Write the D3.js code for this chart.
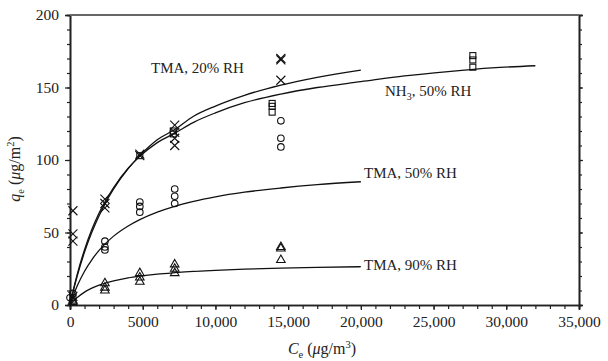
<!DOCTYPE html>
<html lang="en">
<head>
    <meta charset="UTF-8">
    <title>Adsorption isotherms</title>
    <script type="text/javascript" src="https://d3js.org/d3.v7.min.js"></script>
    <style>
        body { margin: 0; background: #fff; }
        text { font-family: "Liberation Serif", "Times New Roman", serif; fill: #222; }
    </style>
</head>
<body>
<svg height="361" width="608"></svg>

<script>

    // tick values
    var xTicks = [0, 5000, 10000, 15000, 20000, 25000, 30000, 35000];
    var yTicks = [0, 50, 100, 150, 200];

    // measured points [Ce, qe]
    var tma20Pts = [[200, 6], [200, 44], [200, 49], [200, 65], [2400, 67], [2400, 70], [2400, 73],
        [4800, 103], [4800, 104], [7200, 110], [7200, 115], [7200, 119], [7200, 124],
        [14500, 155], [14500, 169], [14500, 170]];
    var nh3Pts = [[200, 5], [4800, 103], [7100, 118], [7100, 120],
        [13900, 133], [13900, 137], [13900, 139], [27700, 164], [27700, 169], [27700, 172]];
    var tma50Pts = [[0, 5], [200, 8], [2400, 38], [2400, 40], [2400, 44], [4800, 64], [4800, 68], [4800, 71],
        [7200, 70], [7200, 75], [7200, 80], [14500, 109], [14500, 115], [14500, 127]];
    var tma90Pts = [[200, 2], [200, 3], [2400, 10], [2400, 12], [2400, 15], [4800, 16], [4800, 19], [4800, 22],
        [7200, 22], [7200, 25], [7200, 28], [14500, 31], [14500, 39], [14500, 40]];

    // fitted curves
    var fitC = [0, 250, 500, 1000, 1500, 2000, 2400, 3000, 4000, 4800, 6000, 7200, 8500, 10000, 12000, 14500, 17000, 20000];
    var nh3C = fitC.concat([23000, 26000, 29000, 32000]);
    var tma20Fit = [0, 10.6, 20.1, 36.5, 50.1, 61.6, 69.6, 80, 94, 103, 113.9, 121, 130.2, 137.2, 144.6, 151.6, 157, 162];
    var nh3Fit = [0, 11.3, 21.3, 38.2, 52, 63.4, 71, 81, 94.3, 102.5, 112, 118.5, 126, 132.5, 139.5, 145.5, 150, 154, 158, 161, 163.5, 165];
    var tma50Fit = [0, 7.1, 13.2, 23.3, 31.2, 37.7, 42, 47.5, 54.5, 58.9, 64.1, 68.1, 71.5, 74.6, 77.8, 80.7, 83, 85];
    var tma90Fit = [0, 3.1, 5.2, 8.9, 11.6, 13.7, 15, 16.6, 18.7, 19.9, 21.3, 22.3, 23.2, 23.9, 24.7, 25.4, 25.9, 26.4];

    var marge = {top: 15, right: 29, bottom: 56, left: 70},
        svg = d3.select('svg'),
        width = svg.attr('width') - marge.left - marge.right,
        height = svg.attr('height') - marge.top - marge.bottom;

    var g = svg.append('g')
        .attr('transform', 'translate(' + marge.left + ',' + marge.top + ')');

    var x = d3.scaleLinear().domain([0, 35000]).range([0, width]);
    var y = d3.scaleLinear().domain([0, 200]).range([height, 0]);

    var fmtX = function (d) { return d >= 10000 ? d3.format(',')(d) : d; };

    // minor ticks
    g.append('g')
        .attr('transform', 'translate(0,' + height + ')')
        .call(d3.axisBottom(x).tickValues(d3.range(0, 35001, 1000)).tickSize(4).tickFormat(''));
    g.append('g')
        .call(d3.axisLeft(y).tickValues(d3.range(0, 201, 10)).tickSize(3).tickFormat(''));
    g.append('g')
        .attr('transform', 'translate(' + width + ',0)')
        .call(d3.axisRight(y).tickValues(d3.range(0, 201, 10)).tickSize(3).tickFormat(''));

    // major ticks + labels
    g.append('g')
        .attr('transform', 'translate(0,' + height + ')')
        .call(d3.axisBottom(x).tickValues(xTicks).tickSize(5).tickPadding(6).tickFormat(fmtX));
    g.append('g')
        .call(d3.axisLeft(y).tickValues(yTicks).tickSize(5).tickPadding(6));
    g.append('g')
        .attr('transform', 'translate(' + width + ',0)')
        .call(d3.axisRight(y).tickValues(yTicks).tickSize(4).tickFormat(''));

    g.selectAll('.domain').attr('stroke', '#222').attr('stroke-width', 1.6);
    g.selectAll('.tick line').attr('stroke', '#222').attr('stroke-width', 1.2);
    g.selectAll('.tick text').attr('font-size', 15.5)
        .attr('font-family', '"Liberation Serif", "Times New Roman", serif').attr('fill', '#222');

    // top border
    g.append('line')
        .attr('x1', 0).attr('x2', width).attr('y1', 0).attr('y2', 0)
        .attr('stroke', '#666').attr('stroke-width', 2.2);

    // fitted curves
    var line = d3.line()
        .x(function (d) { return x(d[0]); })
        .y(function (d) { return y(d[1]); })
        .curve(d3.curveMonotoneX);

    [[fitC, tma20Fit], [nh3C, nh3Fit], [fitC, tma50Fit], [fitC, tma90Fit]].forEach(function (s) {
        g.append('path')
            .attr('d', line(d3.zip(s[0], s[1])))
            .attr('fill', 'none')
            .attr('stroke', '#111')
            .attr('stroke-width', 1.3);
    });

    // markers
    var mk = g.append('g').attr('fill', 'none').attr('stroke', '#111').attr('stroke-width', 1.1);

    mk.selectAll('.cross').data(tma20Pts).enter().append('path')
        .attr('transform', function (d) { return 'translate(' + x(d[0]) + ',' + y(d[1]) + ')'; })
        .attr('d', 'M-4.5,-4.5L4.5,4.5M-4.5,4.5L4.5,-4.5');

    mk.selectAll('.sq').data(nh3Pts).enter().append('rect')
        .attr('x', function (d) { return x(d[0]) - 3; })
        .attr('y', function (d) { return y(d[1]) - 3; })
        .attr('width', 6).attr('height', 6);

    mk.selectAll('.circ').data(tma50Pts).enter().append('circle')
        .attr('cx', function (d) { return x(d[0]); })
        .attr('cy', function (d) { return y(d[1]); })
        .attr('r', 3.3);

    mk.selectAll('.tri').data(tma90Pts).enter().append('path')
        .attr('transform', function (d) { return 'translate(' + x(d[0]) + ',' + y(d[1]) + ')'; })
        .attr('d', d3.symbol().type(d3.symbolTriangle).size(32));

    // series labels
    function label(tx, ty, parts) {
        var t = svg.append('text').attr('x', tx).attr('y', ty).attr('font-size', 15);
        parts.forEach(function (p) {
            var s = t.append('tspan').text(p[0]);
            if (p[1] === 'sub') s.attr('font-size', 10).attr('dy', 4);
            if (p[1] === 'back') s.attr('dy', -4);
        });
    }
    label(151, 73, [['TMA, 20% RH']]);
    label(385, 96, [['NH'], ['3', 'sub'], [', 50% RH', 'back']]);
    label(364, 178, [['TMA, 50% RH']]);
    label(364, 270, [['TMA, 90% RH']]);

    // axis titles
    var xt = svg.append('text').attr('x', 322).attr('y', 354)
        .attr('text-anchor', 'middle').attr('font-size', 16);
    xt.append('tspan').attr('font-style', 'italic').text('C');
    xt.append('tspan').attr('font-size', 10.5).attr('dy', 4).text('e');
    xt.append('tspan').attr('dy', -4).text(' (');
    xt.append('tspan').attr('font-style', 'italic').text('μ');
    xt.append('tspan').text('g/m');
    xt.append('tspan').attr('font-size', 10.5).attr('dy', -6).text('3');
    xt.append('tspan').attr('dy', 6).text(')');

    var yt = svg.append('text')
        .attr('transform', 'translate(20,169) rotate(-90)')
        .attr('text-anchor', 'middle').attr('font-size', 16);
    yt.append('tspan').attr('font-style', 'italic').text('q');
    yt.append('tspan').attr('font-size', 10.5).attr('dy', 4).text('e');
    yt.append('tspan').attr('dy', -4).text(' (');
    yt.append('tspan').attr('font-style', 'italic').text('μ');
    yt.append('tspan').text('g/m');
    yt.append('tspan').attr('font-size', 10.5).attr('dy', -6).text('2');
    yt.append('tspan').attr('dy', 6).text(')');
</script>
</body>
</html>
